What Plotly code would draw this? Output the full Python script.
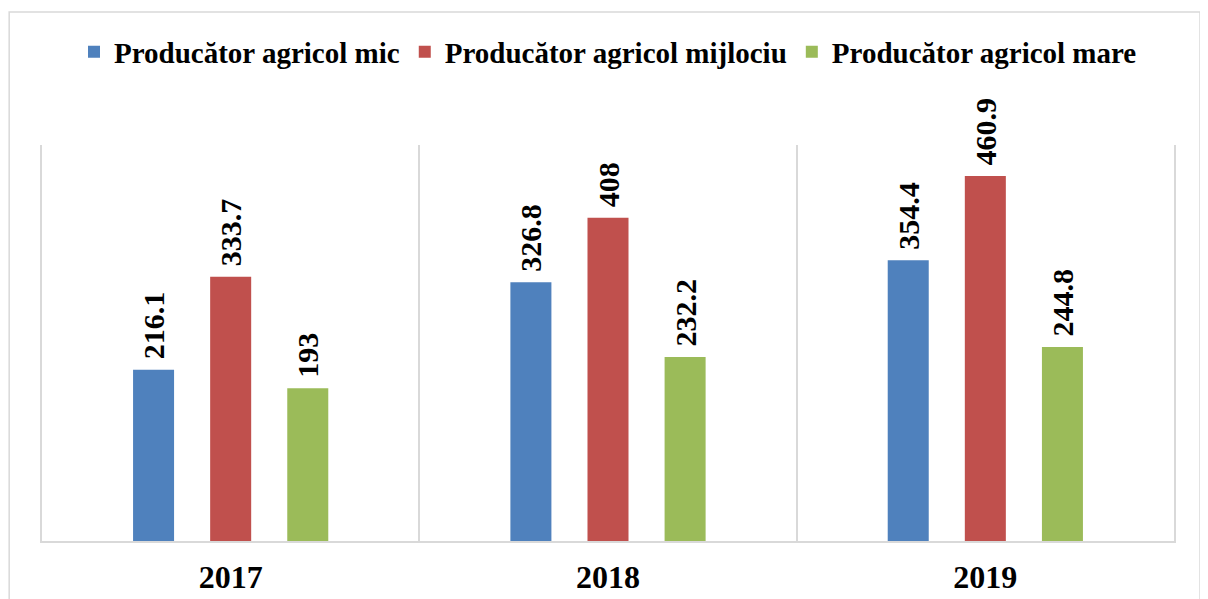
import plotly.graph_objects as go

years = ["2017", "2018", "2019"]
series_names = ["Producător agricol mic", "Producător agricol mijlociu", "Producător agricol mare"]
mic = [216.1, 326.8, 354.4]
mijlociu = [333.7, 408, 460.9]
mare = [193, 232.2, 244.8]
colors = ["#4F81BD", "#C0504D", "#9BBB59"]

FONT = "Liberation Serif"

fig = go.Figure()
for name, vals, col in zip(series_names, [mic, mijlociu, mare], colors):
    fig.add_trace(go.Bar(
        x=years, y=vals, name=name,
        marker=dict(color=col, line=dict(width=0)),
        texttemplate="\u00a0%{y}",
        textposition="outside",
        textangle=-90,
        constraintext="none",
        cliponaxis=False,
        textfont=dict(family=FONT, size=30, color="black", weight="bold"),
    ))

fig.update_layout(
    width=1208, height=599,
    paper_bgcolor="white", plot_bgcolor="white",
    margin=dict(l=34, r=42, t=137, b=66, autoexpand=False),
    barmode="group", bargap=0.387, bargroupgap=0.468,
    font=dict(family=FONT, color="black"),
    showlegend=True,
    legend=dict(orientation="h", x=0.5, xanchor="center", y=1.235, yanchor="middle",
                font=dict(family=FONT, size=29, color="black", weight="bold"),
                itemwidth=30, traceorder="normal"),
    xaxis=dict(type="category", range=[-0.5, 2.5], tickson="boundaries", automargin=False,
               showgrid=True, gridcolor="#d9d9d9", gridwidth=1.5,
               showline=True, linecolor="#d9d9d9", linewidth=1.5,
               ticks="", ticklabelstandoff=7,
               tickfont=dict(family=FONT, size=32, color="black", weight="bold")),
    yaxis=dict(range=[0, 500], showgrid=False, showticklabels=False, zeroline=False, automargin=False,
               showline=True, mirror=True, linecolor="#d9d9d9", linewidth=1.5, ticks=""),
    shapes=[dict(type="rect", xref="paper", yref="paper",
                 x0=-0.029, x1=1.023, y0=-0.2, y1=1.336,
                 line=dict(color="#d9d9d9", width=1.5), fillcolor="rgba(0,0,0,0)", layer="below")],
)

fig.write_html("out.html")
